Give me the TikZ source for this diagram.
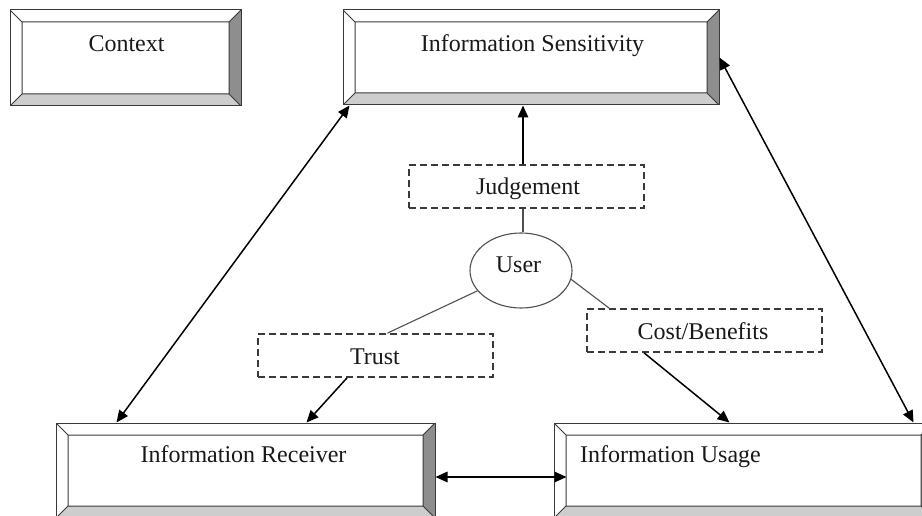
\documentclass[tikz,border=0pt]{standalone}
\usepackage{fontspec}
\setmainfont{Liberation Serif}
\usetikzlibrary{arrows.meta,shapes.geometric}

\definecolor{edgegray}{HTML}{3A3A3A}
\definecolor{bevellight}{HTML}{CDCDCD}
\definecolor{beveldark}{HTML}{8E8E8E}
\definecolor{thinline}{HTML}{505050}

\newcommand\ppb{path picture bounding box}

\tikzset{
  % framed box with a 12pt bevel: light bottom, dark right
  bevelbox/.style={rectangle, draw=edgegray, line width=1pt, fill=white, inner sep=0pt,
    path picture={
      \fill[bevellight] (\ppb.south west) -- (\ppb.south east)
        -- ([shift={(-12pt,12pt)}]\ppb.south east) -- ([shift={(12pt,12pt)}]\ppb.south west) -- cycle;
      \fill[beveldark] (\ppb.south east) -- (\ppb.north east)
        -- ([shift={(-12pt,-12pt)}]\ppb.north east) -- ([shift={(-12pt,12pt)}]\ppb.south east) -- cycle;
      \draw[edgegray, line width=1pt]
        ([shift={(12pt,12pt)}]\ppb.south west) rectangle ([shift={(-12pt,-12pt)}]\ppb.north east)
        (\ppb.south west) -- ++(12pt,12pt)
        (\ppb.south east) -- ++(-12pt,12pt)
        (\ppb.north east) -- ++(-12pt,-12pt)
        (\ppb.north west) -- ++(12pt,-12pt);
    }},
  dashbox/.style={rectangle, draw=edgegray, line width=1.8pt, dash pattern=on 7pt off 4pt,
    minimum width=235pt, minimum height=43pt, inner sep=0pt},
  userbubble/.style={ellipse, draw=thinline, line width=1.1pt, minimum width=102pt,
    minimum height=75pt, inner sep=0pt},
  lbl/.style={inner sep=0pt, anchor=base, text=black!90, font=\fontsize{24pt}{28pt}\selectfont},
  tip/.tip={Triangle[length=12pt,width=10.5pt]},
  arr/.style={line width=1.5pt, -tip},
  darr/.style={line width=1.5pt, tip-tip},
  link/.style={draw=thinline, line width=1.1pt},
}

\begin{document}
\begin{tikzpicture}[x=1pt,y=-1pt]
  \clip (0,0) rectangle (922,516);
  \fill[white] (0,0) rectangle (922,516);

  % framed boxes
  \node[bevelbox, minimum width=231pt, minimum height=96pt] (ctx) at (125.5,58) {};
  \node[bevelbox, minimum width=376pt, minimum height=95pt] (sens) at (531,57.5) {};
  \node[bevelbox, minimum width=379pt, minimum height=95pt] (recv) at (245.5,470.5) {};
  \node[bevelbox, minimum width=379pt, minimum height=95pt] (usage) at (743.5,470.5) {};

  \node[lbl] (ctxT) at (126.5,52) {Context};
  \node[lbl] (sensT) at (532.5,52) {Information Sensitivity};
  \node[lbl] (recvT) at (243.5,462) {Information Receiver};
  \node[lbl, anchor=base west] (usageT) at (580,462) {Information Usage};

  % dashed relation boxes
  \node[dashbox] (judg) at (526.5,186.5) {};
  \node[dashbox] (trust) at (375.5,355.5) {};
  \node[dashbox] (cost) at (704.5,330.5) {};

  \node[lbl] (judgT) at (528,195) {Judgement};
  \node[lbl] (trustT) at (375,364) {Trust};
  \node[lbl] (costT) at (703,339) {Cost/Benefits};

  % the user
  \node[userbubble] (user) at (521,270.5) {};
  \node[lbl] (userT) at (518.5,272.5) {User};

  % links from the user
  \draw[link] ([xshift=-3.5pt]judg.south) -- ([xshift=-3.5pt]judg.south |- user.north);
  \draw[link] (user.205) -- ([xshift=12pt]trust.north);
  \draw[link] (user.350) -- ([xshift=23pt]cost.north west);

  % arrows
  \draw[arr] ([xshift=-3.5pt]judg.north) -- ([xshift=-3.5pt]judg.north |- sens.south);
  \draw[arr] ([xshift=-28.5pt]trust.south) -- ([xshift=251pt]recv.north west);
  \draw[arr] ([xshift=58pt]cost.south west) -- ([xshift=176pt]usage.north west);
  \draw[darr] ([xshift=7pt]sens.south west) -- ([xshift=61pt]recv.north west);
  \draw[darr] (sens.east) -- ([xshift=-20pt]usage.north east);
  \draw[darr] ([yshift=-6.5pt]recv.east) -- ([shift={(13pt,-6.5pt)}]usage.west);
\end{tikzpicture}
\end{document}
